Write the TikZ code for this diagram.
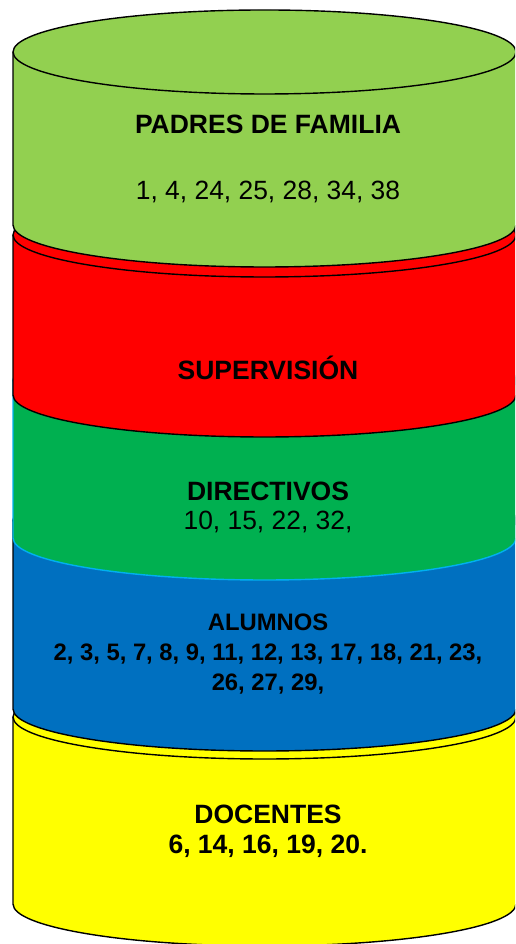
\documentclass[tikz,border=0pt]{standalone}
\usepackage{fontspec}
\setmainfont{Liberation Sans}
\definecolor{lgreen}{HTML}{92D050}
\definecolor{dgreen}{HTML}{00B050}
\definecolor{cblue}{HTML}{0070C0}
\definecolor{cyanline}{HTML}{00B0F0}
\definecolor{cyellow}{HTML}{FFFF00}
\definecolor{cred}{HTML}{FF0000}
\newcommand{\layer}[4]{% fill, draw, top Y (up), bottom Y (up)
  \filldraw[fill=#1,draw=#2,line width=1.4pt,line join=round]
    (13,#3) -- (13,#4) arc[start angle=180,end angle=360,x radius=251.5pt,y radius=42pt]
    -- (516,#3) arc[start angle=0,end angle=180,x radius=251.5pt,y radius=42pt] -- cycle;
  \draw[draw=#2,line width=1.4pt] (13,#3) arc[start angle=180,end angle=360,x radius=251.5pt,y radius=42pt];
}
\tikzset{
  lbl/.style={anchor=base,font=\bfseries\fontsize{26.5}{30}\selectfont,inner sep=0pt},
  nums/.style={anchor=base,font=\fontsize{26.4}{30}\selectfont,inner sep=0pt},
  small/.style={anchor=base,font=\bfseries\fontsize{23.8}{30}\selectfont,inner sep=0pt},
}
\begin{document}
\begin{tikzpicture}[x=1pt,y=1pt]
\useasboundingbox (0,0) rectangle (515,944);
\clip (0,0) rectangle (515,944);
% image y -> 944 - y
\layer{cyellow}{black}{227}{40}
\layer{cblue}{black}{424}{235}
\layer{dgreen}{cyanline}{564}{406}
\layer{cred}{black}{709}{549}
\layer{lgreen}{black}{892}{719}
\node[lbl]  (padres) at (268,944-133.5) {PADRES DE FAMILIA};
\node[nums] (padresn) at (268,944-200) {1, 4, 24, 25, 28, 34, 38};
\node[lbl]  (sup) at (268,944-380) {SUPERVISIÓN};
\node[lbl]  (dir) at (268,944-501) {DIRECTIVOS};
\node[nums] (dirn) at (268,944-530) {10, 15, 22, 32,};
\node[small] (alu) at (268,944-631) {ALUMNOS};
\node[small] (alun1) at (268,944-661) {2, 3, 5, 7, 8, 9, 11, 12, 13, 17, 18, 21, 23,};
\node[small] (alun2) at (268,944-691) {26, 27, 29,};
\node[lbl]  (doc) at (268,944-824) {DOCENTES};
\node[lbl]  (docn) at (268,944-854) {6, 14, 16, 19, 20.};
\end{tikzpicture}
\end{document}
